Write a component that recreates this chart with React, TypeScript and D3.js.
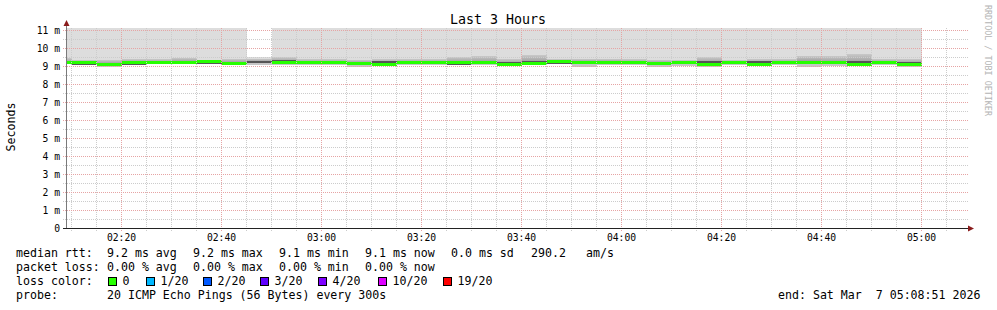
import React from 'react';
import * as d3 from 'd3';

// ---- data (5-minute slots, values in ms) ----
const slotStart = [
  '02:05', '02:10', '02:15', '02:20', '02:25', '02:30', '02:35', '02:40', '02:45', '02:50',
  '02:55', '03:00', '03:05', '03:10', '03:15', '03:20', '03:25', '03:30', '03:35', '03:40',
  '03:45', '03:50', '03:55', '04:00', '04:05', '04:10', '04:15', '04:20', '04:25', '04:30',
  '04:35', '04:40', '04:45', '04:50', '04:55',
];
const medianMs: (number | null)[] = [
  9.18, 9.18, 9.10, 9.18, 9.19, 9.21, 9.24, 9.15, null, 9.17,
  9.19, 9.18, 9.15, 9.11, 9.18, 9.18, 9.18, 9.17, 9.11, 9.14,
  9.25, 9.21, 9.21, 9.18, 9.14, 9.18, 9.09, 9.18, 9.11, 9.17,
  9.21, 9.18, 9.11, 9.18, 9.11,
];
const upperMs = [
  9.42, 9.35, 9.33, 9.39, 9.37, 9.44, 9.33, 9.37, 9.41, 9.48,
  9.39, 9.39, 9.33, 9.39, 9.39, 9.39, 9.48, 9.54, 9.39, 9.61,
  9.39, 9.39, 9.39, 9.39, 9.33, 9.33, 9.48, 9.35, 9.39, 9.39,
  9.57, 9.57, 9.67, 9.39, 9.39,
];
const minMs = [
  9.11, 9.06, 8.94, 9.03, 9.11, 9.11, 9.09, 9.06, 9.07, 9.06,
  9.08, 9.08, 8.96, 9.06, 9.08, 9.08, 9.04, 9.07, 9.07, 9.06,
  9.11, 8.96, 9.08, 9.04, 8.96, 9.02, 8.94, 9.08, 9.06, 9.06,
  8.96, 9.02, 9.06, 9.08, 8.93,
];
const maxMs = [
  11.4, 11.4, 11.4, 11.4, 11.4, 11.4, 11.4, 11.4, 9.52, 11.4,
  11.4, 11.4, 11.4, 11.4, 11.4, 11.4, 11.4, 11.4, 11.4, 11.4,
  11.4, 11.4, 11.4, 11.4, 11.4, 11.4, 11.4, 11.4, 11.4, 11.4,
  11.4, 11.4, 11.4, 11.4, 11.4,
];
const innerLoMs: (number | null)[] = [
  null, 9.06, null, 9.06, null, null, 9.09, null, 9.17, 9.24,
  null, null, null, 9.17, null, null, 9.04, null, 9.17, 9.17,
  9.11, null, null, null, null, null, 9.15, 9.24, 9.17, null,
  null, null, 9.17, null, 9.15,
];
const innerHiMs: (number | null)[] = [
  null, 9.11, null, 9.11, null, null, 9.18, null, 9.29, 9.33,
  null, null, null, 9.26, null, null, 9.11, null, 9.24, 9.29,
  9.21, null, null, null, null, null, 9.26, 9.29, 9.26, null,
  null, null, 9.26, null, 9.21,
];

const yTickValues = [0, 1, 2, 3, 4, 5, 6, 7, 8, 9, 10, 11];
const rttStats = ['9.2 ms avg', '9.2 ms max', '9.1 ms min', '9.1 ms now', '0.0 ms sd', '290.2', 'am/s'];
const lossStats = ['0.00 % avg', '0.00 % max', '0.00 % min', '0.00 % now'];
const lossLabels = ['0', '1/20', '2/20', '3/20', '4/20', '10/20', '19/20'];
const lossPalette = ['#26ff00', '#00b8ff', '#0059ff', '#5e00ff', '#7e00ff', '#dd00ff', '#ff0000'];
const probeText = '20 ICMP Echo Pings (56 Bytes) every 300s';
const endText = 'end: Sat Mar  7 05:08:51 2026';

// ---- layout ----
const W = 997;
const H = 310;
const MONO = "'DejaVu Sans Mono', monospace";
const tStart = new Date(2026, 2, 7, 2, 8, 51);
const tEnd = new Date(2026, 2, 7, 5, 8, 51);
const parseHM = (s: string) => {
  const [h, m] = s.split(':').map(Number);
  return new Date(2026, 2, 7, h, m, 0);
};
const keepSpaces = (s: string) => s.replace(/ /g, '\u00a0');

export default function App() {
  const x = d3.scaleTime().domain([tStart, tEnd]).range([66, 966]);
  const y = d3.scaleLinear().domain([0, 200 / 18]).range([228, 28]);
  const top = 28;
  const yc = (v: number) => Math.max(top, Math.round(y(v)));

  const minorT = d3.timeMinute.every(5)!.range(tStart, tEnd);
  const majorT = minorT.filter((d) => d.getMinutes() % 20 === 0);
  const fmt = d3.timeFormat('%H:%M');
  const minorY = d3.range(1, 23).map((k) => k * 0.5).filter((v) => v % 1 !== 0);
  const majorY = yTickValues.filter((v) => v > 0);

  const slots = slotStart.map((s, i) => {
    const st = parseHM(s);
    const en = d3.timeMinute.offset(st, 5);
    const x0 = Math.round(x(st < tStart ? tStart : st));
    const x1 = Math.round(x(en));
    return { i, x0, w: x1 - x0 };
  });

  const legendXs = [16, 107, 193, 279, 365, 451, 531, 586];
  const boxXs = [108, 146, 203, 260, 318, 378, 443];

  return (
    <svg
      width={W}
      height={H}
      style={{ position: 'fixed', left: 0, top: 0, background: '#fff' }}
      fontFamily={MONO}
    >
      <defs>
        <linearGradient id="midg" x1="0" y1="0" x2="0" y2="1">
          <stop offset="0" stopColor="#c9c9c9" />
          <stop offset="1" stopColor="#989898" />
        </linearGradient>
      </defs>
      <rect x={0} y={0} width={W} height={H} fill="#ffffff" />

      {/* smoke */}
      <g shapeRendering="crispEdges">
        {slots.map(({ i, x0, w }) => {
          const med = medianMs[i];
          const yMax = yc(maxMs[i]);
          const yMin = yc(minMs[i]);
          const yUp = yc(upperMs[i]);
          const refMed = med ?? (minMs[i] + upperMs[i]) / 2;
          const yMed = yc(refMed);
          return (
            <g key={i}>
              <rect x={x0} y={yMax} width={w} height={yMin - yMax} fill="#dddddd" />
              <rect x={x0} y={yMed} width={w} height={Math.max(0, yMin - yMed)} fill="#c6c6c6" />
              <rect x={x0} y={yUp} width={w} height={Math.max(0, yMed - yUp)} fill="url(#midg)" />
              {innerLoMs[i] != null && innerHiMs[i] != null && (
                <rect
                  x={x0}
                  y={yc(innerHiMs[i]!)}
                  width={w}
                  height={Math.max(1, yc(innerLoMs[i]!) - yc(innerHiMs[i]!))}
                  fill="#555555"
                />
              )}
              {med != null && (
                <rect x={x0} y={Math.round(y(med) - 1.5)} width={w} height={3} fill="#26ff00" />
              )}
            </g>
          );
        })}
      </g>

      {/* grid */}
      <g shapeRendering="crispEdges" strokeDasharray="1,1" strokeWidth={1}>
        {minorY.map((v) => (
          <line key={'hy' + v} x1={63} x2={968} y1={Math.round(y(v)) + 0.5} y2={Math.round(y(v)) + 0.5} stroke="#cccccc" />
        ))}
        {minorT
          .filter((d) => d.getMinutes() % 20 !== 0)
          .map((d) => (
            <line key={'vx' + d.getTime()} x1={Math.floor(x(d)) + 0.5} x2={Math.floor(x(d)) + 0.5} y1={28} y2={231} stroke="#cccccc" />
          ))}
        {majorY.map((v) => (
          <line key={'my' + v} x1={63} x2={968} y1={Math.round(y(v)) + 0.5} y2={Math.round(y(v)) + 0.5} stroke="#e6a4a4" />
        ))}
        {majorT.map((d) => (
          <line key={'mx' + d.getTime()} x1={Math.floor(x(d)) + 0.5} x2={Math.floor(x(d)) + 0.5} y1={28} y2={231} stroke="#e6a4a4" />
        ))}
      </g>

      {/* axes */}
      <g shapeRendering="crispEdges">
        <line x1={66.5} x2={66.5} y1={228} y2={22} stroke="#7a7a7a" />
        <line x1={63} x2={969} y1={228.5} y2={228.5} stroke="#222" />
      </g>
      <polygon points="63.5,26 69.5,26 66.5,20" fill="#8a1c1c" />
      <polygon points="968,225.5 968,231.5 974,228.5" fill="#8a1c1c" />

      {/* y tick labels */}
      <g fontSize={9.7} fill="#000" textAnchor="end">
        {yTickValues.map((v) => (
          <text key={'yl' + v} x={60} y={Math.round(y(v)) + 3.5}>
            {v === 0 ? '0' : keepSpaces(`${v} m`)}
          </text>
        ))}
      </g>

      {/* x tick labels */}
      <g fontSize={9.7} fill="#000" textAnchor="middle">
        {majorT.map((d) => (
          <text key={'xl' + d.getTime()} x={Math.floor(x(d)) + 0.5} y={241}>
            {fmt(d)}
          </text>
        ))}
      </g>

      {/* title */}
      <text x={498} y={24} fontSize={13.3} textAnchor="middle" fill="#000">
        Last 3 Hours
      </text>

      {/* y-axis title */}
      <text transform="translate(15,127) rotate(-90)" fontSize={11.6} textAnchor="middle" fill="#000">
        Seconds
      </text>

      {/* watermark */}
      <text transform="translate(984.5,5) rotate(90)" fontSize={8.4} fill="#b4b4b4">
        {keepSpaces('RRDTOOL / TOBI OETIKER')}
      </text>

      {/* legend */}
      <g fontSize={11.6} fill="#000">
        <text x={legendXs[0]} y={257}>{keepSpaces('median rtt:')}</text>
        {rttStats.map((s, k) => (
          <text key={'r' + k} x={legendXs[k + 1]} y={257}>{keepSpaces(s)}</text>
        ))}
        <text x={legendXs[0]} y={271}>{keepSpaces('packet loss:')}</text>
        {lossStats.map((s, k) => (
          <text key={'l' + k} x={legendXs[k + 1]} y={271}>{keepSpaces(s)}</text>
        ))}
        <text x={legendXs[0]} y={285}>{keepSpaces('loss color:')}</text>
        {lossLabels.map((s, k) => (
          <g key={'c' + k}>
            <rect x={boxXs[k] + 0.5} y={277.5} width={8} height={8} fill={lossPalette[k]} stroke="#000" strokeWidth={1} shapeRendering="crispEdges" />
            <text x={boxXs[k] + 14.5} y={285}>{s}</text>
          </g>
        ))}
        <text x={legendXs[0]} y={299}>probe:</text>
        <text x={legendXs[1]} y={299}>{keepSpaces(probeText)}</text>
        <text x={778} y={299}>{keepSpaces(endText)}</text>
      </g>
    </svg>
  );
}
